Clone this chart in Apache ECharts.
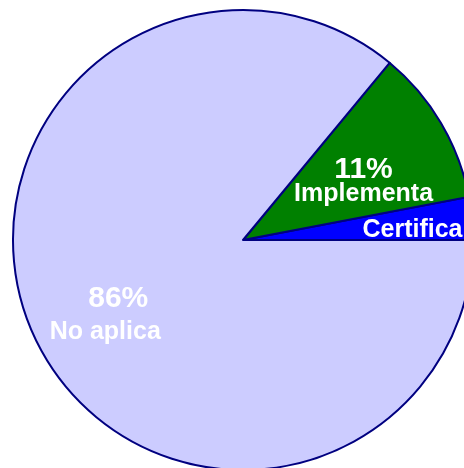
<!DOCTYPE html>
<html>
<head>
<meta charset="utf-8">
<script src="https://cdn.jsdelivr.net/npm/echarts@6/dist/echarts.min.js"></script>
<style>
html,body{margin:0;padding:0;background:#fff;}
#chart{width:464px;height:468px;}
</style>
</head>
<body>
<div id="chart"></div>
<script>
// Data
var categories = ['Certifica', 'Implementa', 'No aplica'];
var values = [3, 11, 86];
var showPercent = [false, true, true];

// Styles / layout (not data)
var colors = ['#0000FF', '#008000', '#CCCCFF'];
var labelShift = [[52, 1], [19, 2], [-31, 25]];
var lineHeights = [25, 25, 33];
var pctPadLeft = [0, 0, 26];

var chart = echarts.init(document.getElementById('chart'), null, {renderer: 'canvas'});

var data = categories.map(function (c, i) {
  return {
    name: c,
    value: values[i],
    itemStyle: {color: colors[i]},
    label: {
      rich: {
        p: {fontSize: 30, fontWeight: 'bold', color: '#fff', fontFamily: 'Liberation Sans, Arial, sans-serif', lineHeight: lineHeights[i], padding: [0, 0, 0, pctPadLeft[i]]},
        n: {fontSize: 25, fontWeight: 'bold', color: '#fff', fontFamily: 'Liberation Sans, Arial, sans-serif', lineHeight: lineHeights[i]}
      }
    }
  };
});

chart.setOption({
  animation: false,
  backgroundColor: '#ffffff',
  series: [{
    type: 'pie',
    center: [243, 240],
    radius: 230,
    startAngle: 0,
    clockwise: false,
    avoidLabelOverlap: false,
    itemStyle: {borderColor: '#000080', borderWidth: 2},
    emphasis: {disabled: true},
    label: {
      show: true,
      position: 'inside',
      align: 'center',
      formatter: function (p) {
        var i = p.dataIndex;
        var s = '';
        if (showPercent[i]) s += '{p|' + Math.round(p.percent) + '%}\n';
        return s + '{n|' + p.name + '}';
      }
    },
    labelLine: {show: false},
    labelLayout: function (params) {
      var s = labelShift[params.dataIndex];
      return {dx: s[0], dy: s[1]};
    },
    data: data
  }]
});
</script>
</body>
</html>
